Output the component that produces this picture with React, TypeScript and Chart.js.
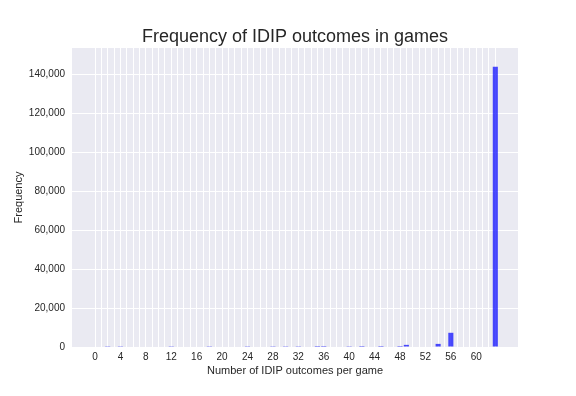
import React, { useEffect, useRef } from "react";
import { Chart, registerables } from "chart.js";

Chart.register(...registerables);

// Number of IDIP outcomes per game (bar positions)
const outcomeCounts = [2, 4, 12, 18, 24, 28, 30, 32, 35, 36, 40, 42, 45, 48, 49, 54, 56, 63];
// Frequency (number of games) for each outcome count
const gameFrequencies = [400, 400, 400, 400, 400, 400, 400, 400, 500, 500, 400, 500, 500, 500, 1100, 1600, 7300, 143900];
// Labelled x ticks
const xTickLabels = [0, 4, 8, 12, 16, 20, 24, 28, 32, 36, 40, 44, 48, 52, 56, 60];
// Labelled y ticks
const yTickValues = [0, 20000, 40000, 60000, 80000, 100000, 120000, 140000];

const X_MIN = -3.62;
const X_MAX = 66.57;
const GRID_FIRST = 0;
const GRID_LAST = 63;
const Y_MAX = 153500;

const FONT = '"Liberation Sans", Arial, Helvetica, sans-serif';
const TEXT = "#262626";

const bgPlugin = {
  id: "seabornBg",
  beforeDraw(chart: any) {
    const { ctx, chartArea } = chart;
    ctx.save();
    ctx.fillStyle = "#ffffff";
    ctx.fillRect(0, 0, chart.width, chart.height);
    ctx.fillStyle = "#EAEAF2";
    ctx.fillRect(chartArea.left, chartArea.top, chartArea.right - chartArea.left, chartArea.bottom - chartArea.top);
    ctx.restore();
  },
};

export default function App() {
  const ref = useRef<HTMLCanvasElement | null>(null);

  useEffect(() => {
    if (!ref.current) return;
    Chart.defaults.font.family = FONT;
    const gridValues: number[] = [];
    for (let v = GRID_FIRST; v <= GRID_LAST; v++) gridValues.push(v);

    const chart = new Chart(ref.current, {
      type: "bar",
      data: {
        datasets: [
          {
            data: outcomeCounts.map((x, i) => ({ x, y: gameFrequencies[i] })),
            backgroundColor: "rgba(0,0,255,0.7)",
            borderWidth: 0,
            barPercentage: 1,
            categoryPercentage: 0.8,
          },
        ],
      },
      options: {
        responsive: false,
        animation: false,
        layout: { padding: { left: 0, right: 58, top: 0, bottom: 0 } },
        plugins: {
          legend: { display: false },
          tooltip: { enabled: false },
          title: {
            display: true,
            fullSize: false,
            text: "Frequency of IDIP outcomes in games",
            color: TEXT,
            font: { size: 18, weight: "normal", family: FONT },
            padding: { top: 26, bottom: 0.4 },
          },
        },
        scales: {
          x: {
            type: "linear",
            min: X_MIN,
            max: X_MAX,
            offset: false,
            afterFit: (s: any) => {
              s.height = 49;
            },
            afterBuildTicks: (s: any) => {
              s.ticks = gridValues.map((v) => ({ value: v }));
            },
            border: { display: false },
            grid: {
              offset: false,
              drawTicks: false,
              lineWidth: 1,
              color: "#ffffff",
            },
            ticks: {
              autoSkip: false,
              maxRotation: 0,
              minRotation: 0,
              padding: 4,
              color: TEXT,
              font: { size: 10, family: FONT },
              callback: (v: any) => (xTickLabels.includes(v) ? String(v) : ""),
            },
            title: {
              display: true,
              text: "Number of IDIP outcomes per game",
              color: TEXT,
              font: { size: 11, family: FONT },
              padding: { top: 0, bottom: 18 },
            },
          },
          y: {
            type: "linear",
            min: 0,
            max: Y_MAX,
            afterFit: (s: any) => {
              s.width = 72;
            },
            afterBuildTicks: (s: any) => {
              s.ticks = yTickValues.map((v) => ({ value: v }));
            },
            border: { display: false },
            grid: {
              drawTicks: false,
              lineWidth: 1,
              color: "#ffffff",
            },
            ticks: {
              padding: 7,
              color: TEXT,
              font: { size: 10, family: FONT },
              callback: (v: any) => Number(v).toLocaleString("en-US"),
            },
            title: {
              display: true,
              text: "Frequency",
              color: TEXT,
              font: { size: 11, family: FONT },
              padding: { top: 12, bottom: 0 },
            },
          },
        },
      },
      plugins: [bgPlugin],
    } as any);
    return () => chart.destroy();
  }, []);

  return (
    <div style={{ position: "fixed", left: 0, top: 0, width: 576, height: 396, background: "#fff" }}>
      <canvas ref={ref} width={576} height={396} />
    </div>
  );
}
